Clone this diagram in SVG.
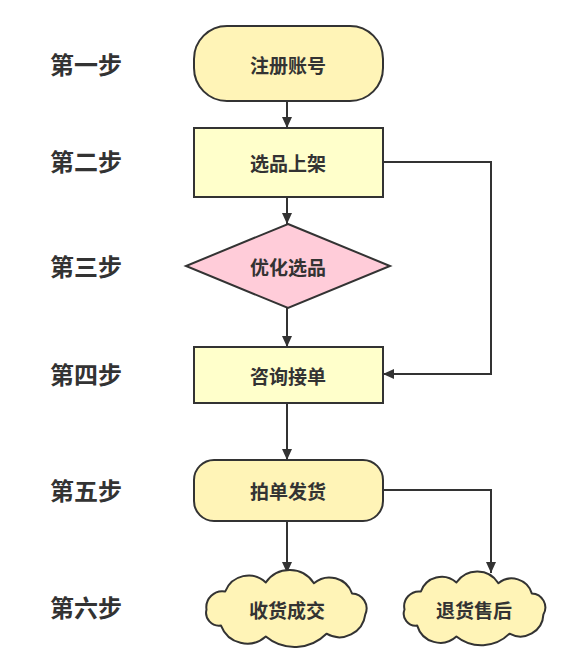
<svg xmlns="http://www.w3.org/2000/svg" width="576" height="672" viewBox="0 0 576 672">
<defs>
<marker id="arr" markerUnits="userSpaceOnUse" markerWidth="12" markerHeight="12" refX="11" refY="5" orient="auto">
<path d="M0,0 L11,5 L0,10 Z" fill="#333"/>
</marker>
<style>
.step{font-family:"Noto Sans CJK SC","Noto Sans",sans-serif;font-size:24px;font-weight:bold;fill:#333;}
.t{font-family:"Noto Sans CJK SC","Noto Sans",sans-serif;font-size:19px;font-weight:bold;fill:#333;text-anchor:middle;dominant-baseline:central;}
.term{fill:#FFF4B7;stroke:#333;stroke-width:2;}
.proc{fill:#FFFFCB;stroke:#333;stroke-width:2;}
.dec{fill:#FFCCD9;stroke:#333;stroke-width:2;}
.cloud{fill:#FFF4B7;stroke:#333;stroke-width:2;stroke-linejoin:round;}
.c{fill:none;stroke:#333;stroke-width:2;marker-end:url(#arr);}
</style>
</defs>
<rect width="576" height="672" fill="#fff"/>
<g id="steps">
<text class="step" x="50" y="74">第一步</text>
<text class="step" x="50" y="171">第二步</text>
<text class="step" x="50" y="276">第三步</text>
<text class="step" x="50" y="384">第四步</text>
<text class="step" x="50" y="500">第五步</text>
<text class="step" x="50" y="617">第六步</text>
</g>
<g id="connectors">
<path class="c" d="M287,102 L287,128"/>
<path class="c" d="M287,197 L287,224"/>
<path class="c" d="M287,308 L287,347"/>
<path class="c" d="M287,403 L287,460"/>
<path class="c" d="M287,521 L287,573"/>
<path class="c" d="M383,490 L491,490 L491,573"/>
<path class="c" d="M383,162 L491,162 L491,374 L383,374"/>
</g>
<g id="n1">
<rect class="term" x="194" y="26" width="189" height="75" rx="33" ry="33"/>
<text class="t" x="288" y="64">注册账号</text>
</g>
<g id="n2">
<rect class="proc" x="194" y="128" width="189" height="69"/>
<text class="t" x="288" y="162">选品上架</text>
</g>
<g id="n3">
<polygon class="dec" points="288,224 390,266 288,308 186,266"/>
<text class="t" x="288" y="266">优化选品</text>
</g>
<g id="n4">
<rect class="proc" x="194" y="347" width="189" height="56"/>
<text class="t" x="288" y="375">咨询接单</text>
</g>
<g id="n5">
<rect class="term" x="194" y="460" width="189" height="61" rx="20" ry="20"/>
<text class="t" x="288" y="490">拍单发货</text>
</g>
<g id="n6">
<path class="cloud" d="M206.5,609.5 A16,16 0 0 1 225.2,591.5 A25,25 0 0 1 265.8,582.5 A29,29 0 0 1 313.9,583.2 A24,24 0 0 1 352,593.4 A15,15 0 0 1 365.3,614.4 A26,26 0 0 1 326.5,633.7 A45,45 0 0 1 265.8,636.5 A28,28 0 0 1 221,625.6 A13,13 0 0 1 206.5,609.5 Z"/>
<text class="t" x="287" y="609">收货成交</text>
</g>
<g id="n7">
<path class="cloud" d="M404.5,609.5 A15,15 0 0 1 420.9,591.5 A22,22 0 0 1 456.4,582.5 A25,25 0 0 1 498.4,583.2 A21,21 0 0 1 531.8,593.4 A14,14 0 0 1 543.4,614.4 A23,23 0 0 1 509.5,633.7 A40,40 0 0 1 456.4,636.5 A24,24 0 0 1 417.2,625.6 A12,12 0 0 1 404.5,609.5 Z"/>
<text class="t" x="474" y="609">退货售后</text>
</g>
</svg>
